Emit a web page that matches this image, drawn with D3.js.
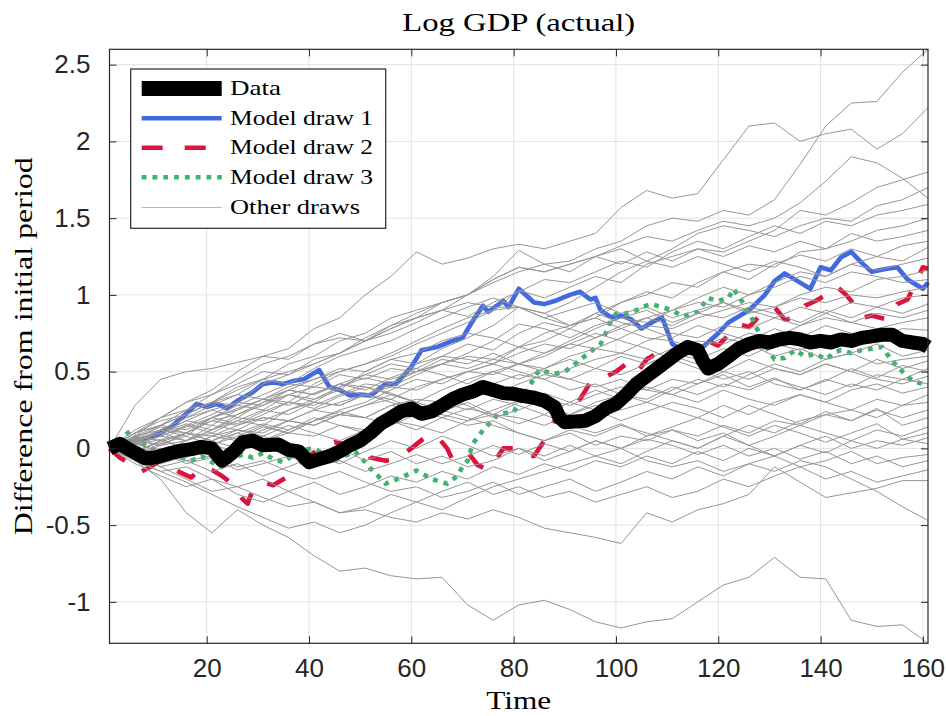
<!DOCTYPE html>
<html>
<head>
<meta charset="utf-8">
<script src="https://cdn.jsdelivr.net/npm/d3@7/dist/d3.min.js"></script>
<style>
  body { margin: 0; background: #ffffff; }
  svg { display: block; }
</style>
</head>
<body>
<svg id="chart" width="946" height="716"></svg>
<script>
// ---- values -------------------------------------------------------------
const xTicks = [20, 40, 60, 80, 100, 120, 140, 160];
const yTicks = [-1, -0.5, 0, 0.5, 1, 1.5, 2, 2.5];
const yTickLabels = ["-1", "-0.5", "0", "0.5", "1", "1.5", "2", "2.5"];
const legendLabels = ["Data", "Model draw 1", "Model draw 2", "Model draw 3", "Other draws"];

// observed log GDP, relative to the first period
const dataTimes = [1, 3, 5, 8, 10, 13, 15, 17, 19, 21, 23, 25, 27, 29, 31, 34, 36, 38, 40, 42, 44, 46, 48, 50,
  52, 54, 56, 58, 60, 62, 64, 66, 68, 70, 72, 74, 76, 78, 80, 82, 84, 86, 88, 89, 90, 92, 94, 96, 98, 100,
  102, 104, 106, 108, 110, 112, 114, 116, 117, 118, 120, 122, 124, 126, 128, 130, 132, 134, 136, 138, 140,
  142, 144, 146, 148, 150, 152, 154, 156, 158, 160, 161];
const dataValues = [0, 0.03, -0.01, -0.065, -0.06, -0.03, -0.015, -0.005, 0.01, 0.0, -0.08, -0.03, 0.04, 0.05,
  0.02, 0.025, -0.01, -0.02, -0.09, -0.07, -0.05, -0.02, 0.02, 0.05, 0.1, 0.16, 0.2, 0.24, 0.26, 0.225, 0.24,
  0.28, 0.32, 0.35, 0.37, 0.4, 0.38, 0.36, 0.355, 0.34, 0.33, 0.31, 0.27, 0.2, 0.17, 0.175, 0.18, 0.21, 0.26,
  0.29, 0.35, 0.42, 0.47, 0.52, 0.57, 0.62, 0.66, 0.64, 0.57, 0.52, 0.55, 0.6, 0.65, 0.68, 0.7, 0.69, 0.71,
  0.72, 0.71, 0.69, 0.7, 0.69, 0.71, 0.7, 0.72, 0.73, 0.74, 0.74, 0.7, 0.69, 0.68, 0.66];

// model draw 1
const draw1Times = [1, 3, 6, 9, 11, 13, 16, 18, 20, 22, 24, 26, 29, 31, 33, 35, 37, 39, 42, 44, 46, 48, 50, 52,
  55, 57, 60, 62, 65, 68, 70, 72, 74, 75, 78, 79, 81, 84, 86, 88, 91, 93, 95, 96, 97, 99, 101, 103, 105, 107,
  109, 111, 113, 115, 117, 120, 122, 126, 129, 131, 133, 136, 138, 140, 142, 144, 146, 148, 150, 153, 155,
  157, 160, 161];
const draw1Values = [0, 0.02, 0.05, 0.07, 0.1, 0.14, 0.225, 0.29, 0.27, 0.29, 0.26, 0.31, 0.366, 0.42, 0.43, 0.42,
  0.44, 0.45, 0.51, 0.4, 0.38, 0.344, 0.35, 0.344, 0.42, 0.42, 0.53, 0.64, 0.66, 0.7, 0.72, 0.83, 0.93, 0.89,
  0.96, 0.92, 1.04, 0.95, 0.94, 0.96, 1.0, 1.02, 0.97, 0.98, 0.9, 0.855, 0.865, 0.84, 0.78, 0.82, 0.854, 0.68,
  0.64, 0.65, 0.66, 0.75, 0.82, 0.9, 0.995, 1.09, 1.14, 1.08, 1.04, 1.18, 1.16, 1.245, 1.28, 1.21, 1.15, 1.17,
  1.18, 1.1, 1.04, 1.08];

// model draw 2
const draw2Times = [1, 3, 5, 7, 9, 11, 13, 15, 17, 19, 21, 23, 25, 27, 28, 29, 31, 33, 36, 38, 40, 42, 45, 48,
  51, 52, 55, 57, 60, 63, 65, 67, 68, 71, 73, 75, 77, 78, 81, 83, 84, 86, 88, 89, 90, 92, 93, 95, 97, 100,
  102, 104, 106, 108, 110, 113, 116, 118, 120, 122, 124, 126, 128, 130, 131, 133, 135, 137, 139, 141, 143,
  145, 146, 148, 150, 153, 155, 157, 159, 160, 161];
const draw2Values = [0, -0.06, -0.1, -0.155, -0.12, -0.08, -0.12, -0.16, -0.19, -0.12, -0.14, -0.18, -0.23,
  -0.33, -0.36, -0.27, -0.22, -0.24, -0.18, -0.1, -0.05, 0.0, 0.04, 0.02, 0.0, -0.06, -0.08, -0.07, 0.0, 0.08,
  0.08, 0.0, -0.07, -0.025, -0.11, -0.14, -0.05, 0.0, 0.0, -0.05, -0.05, 0.05, 0.18, 0.27, 0.3, 0.28, 0.32,
  0.43, 0.45, 0.5, 0.55, 0.49, 0.58, 0.62, 0.6, 0.66, 0.7, 0.7, 0.67, 0.74, 0.81, 0.79, 0.86, 0.9, 0.92, 0.84,
  0.85, 0.93, 0.96, 1.0, 1.06, 1.0, 0.96, 0.85, 0.865, 0.84, 0.94, 0.97, 1.11, 1.18, 1.17];

// model draw 3
const draw3Times = [1, 3, 5, 7, 9, 11, 13, 15, 17, 19, 21, 23, 25, 27, 29, 31, 33, 35, 37, 39, 41, 43, 45, 47,
  49, 51, 52, 55, 58, 61, 64, 67, 69, 70, 71, 72, 74, 77, 80, 83, 85, 88, 90, 92, 95, 97, 98, 99, 100, 102,
  104, 105, 107, 109, 111, 113, 116, 118, 120, 122, 123, 125, 127, 129, 131, 133, 135, 137, 139, 141, 143,
  144, 146, 148, 150, 152, 154, 156, 158, 160, 161];
const draw3Values = [0, 0.06, 0.11, 0.04, 0.0, -0.03, -0.02, -0.06, -0.08, -0.05, -0.09, -0.12, -0.07, -0.04,
  -0.06, -0.03, -0.07, -0.09, -0.04, -0.01, 0.0, -0.04, -0.08, -0.05, -0.02, -0.09, -0.13, -0.23, -0.19,
  -0.144, -0.2, -0.23, -0.18, -0.12, -0.08, 0.03, 0.117, 0.225, 0.236, 0.4, 0.51, 0.486, 0.5, 0.55, 0.63, 0.68,
  0.75, 0.83, 0.876, 0.88, 0.9, 0.92, 0.94, 0.92, 0.9, 0.86, 0.89, 0.98, 0.96, 0.98, 1.04, 0.94, 0.82, 0.68,
  0.58, 0.59, 0.64, 0.6, 0.616, 0.58, 0.63, 0.64, 0.62, 0.64, 0.65, 0.66, 0.57, 0.5, 0.44, 0.42, 0.41];

// remaining model draws, sampled every fifth period
const otherTimes = [1, 6, 11, 16, 21, 26, 31, 36, 41, 46, 51, 56, 61, 66, 71, 76, 81, 86, 91, 96, 101, 106,
  111, 116, 121, 126, 131, 136, 141, 146, 151, 156, 161];
const otherDraws = [
  [0,0.1,0.15,0.22,0.3,0.35,0.45,0.5,0.55,0.62,0.7,0.78,0.85,0.95,1.0,1.08,1.15,1.2,1.22,1.3,1.35,1.45,1.5,1.48,1.55,1.52,1.62,1.85,2.1,2.25,2.26,2.45,2.6],
  [0,0.08,0.2,0.3,0.38,0.5,0.6,0.65,0.78,0.85,1.0,1.12,1.28,1.2,1.24,1.3,1.33,1.3,1.35,1.4,1.57,1.68,1.63,1.66,1.88,2.1,2.12,2.0,2.05,2.08,1.95,2.05,2.22],
  [0,0.05,0.12,0.2,0.25,0.3,0.42,0.48,0.55,0.62,0.7,0.75,0.82,0.9,1.0,1.1,1.18,1.15,1.2,1.25,1.32,1.38,1.35,1.42,1.48,1.45,1.5,1.6,1.74,1.9,1.86,1.76,1.63],
  [0,0.06,0.1,0.18,0.15,0.25,0.32,0.3,0.42,0.5,0.55,0.62,0.7,0.78,0.85,0.9,1.03,0.98,1.05,1.12,1.08,1.2,1.25,1.3,1.28,1.35,1.42,1.55,1.52,1.6,1.7,1.75,1.8],
  [0,0.04,0.12,0.08,0.2,0.28,0.25,0.35,0.4,0.38,0.5,0.58,0.55,0.65,0.72,0.8,0.92,0.88,0.95,1.05,1.15,1.22,1.3,1.4,1.45,1.42,1.38,1.45,1.5,1.48,1.58,1.62,1.7],
  [0,0.28,0.45,0.5,0.52,0.56,0.6,0.58,0.68,0.72,0.7,0.78,0.85,0.9,0.86,0.95,1.02,1.1,1.08,1.15,1.22,1.18,1.28,1.35,1.3,1.38,1.45,1.4,1.48,1.45,1.52,1.55,1.59],
  [0,-0.02,0.05,0.1,0.18,0.15,0.22,0.3,0.28,0.35,0.42,0.4,0.48,0.55,0.6,0.58,0.66,0.75,0.8,0.85,0.95,1.0,1.08,1.05,1.15,1.2,1.18,1.28,1.3,1.35,1.42,1.45,1.5],
  [0,0.1,0.2,0.25,0.35,0.42,0.5,0.48,0.58,0.62,0.72,0.8,0.88,0.95,1.0,1.1,1.18,1.15,1.2,1.25,1.2,1.28,1.22,1.3,1.25,1.32,1.28,1.35,1.3,1.4,1.35,1.38,1.42],
  [0,0.05,0.02,0.1,0.08,0.15,0.2,0.18,0.25,0.3,0.35,0.32,0.4,0.45,0.5,0.55,0.66,0.62,0.7,0.78,0.85,0.82,0.9,0.98,1.05,1.0,1.08,1.15,1.12,1.2,1.25,1.22,1.31],
  [0,0.08,0.15,0.25,0.3,0.4,0.45,0.55,0.6,0.7,0.75,0.85,0.9,0.95,1.0,1.12,1.29,1.2,1.15,1.25,1.3,1.22,1.18,1.25,1.2,1.15,1.22,1.18,1.12,1.2,1.16,1.2,1.24],
  [0,0.02,-0.05,0.0,0.08,0.05,0.12,0.18,0.15,0.22,0.28,0.35,0.3,0.38,0.45,0.5,0.55,0.6,0.68,0.65,0.72,0.8,0.78,0.85,0.9,0.95,0.92,1.0,1.05,1.02,1.1,1.12,1.16],
  [0,0.1,0.18,0.22,0.3,0.38,0.45,0.42,0.52,0.6,0.65,0.7,0.78,0.85,0.92,0.98,0.92,0.85,0.9,0.95,0.88,0.92,0.85,0.9,0.95,0.88,0.92,0.98,0.95,1.0,0.98,1.02,1.05],
  [0,-0.05,0.02,0.05,0.12,0.2,0.18,0.25,0.32,0.38,0.35,0.42,0.5,0.55,0.62,0.7,0.81,0.78,0.72,0.8,0.85,0.9,0.82,0.88,0.95,0.9,0.85,0.92,0.88,0.95,0.92,0.98,1.0],
  [0,0.05,0.12,0.2,0.28,0.35,0.32,0.4,0.45,0.52,0.5,0.58,0.62,0.7,0.75,0.72,0.66,0.7,0.78,0.72,0.8,0.85,0.8,0.88,0.85,0.92,0.88,0.82,0.9,0.85,0.92,0.88,0.94],
  [0,0.03,0.08,0.05,0.12,0.18,0.15,0.25,0.3,0.28,0.35,0.4,0.38,0.45,0.5,0.48,0.55,0.52,0.6,0.65,0.62,0.7,0.75,0.72,0.8,0.78,0.85,0.8,0.88,0.82,0.78,0.82,0.85],
  [0,0.12,0.2,0.3,0.35,0.45,0.55,0.6,0.68,0.75,0.7,0.8,0.85,0.9,0.95,0.92,0.92,0.85,0.8,0.88,0.82,0.78,0.72,0.8,0.75,0.7,0.78,0.72,0.8,0.75,0.72,0.78,0.77],
  [0,0.08,0.05,0.15,0.22,0.3,0.28,0.38,0.45,0.5,0.55,0.6,0.68,0.75,0.82,0.9,0.92,0.88,0.8,0.85,0.78,0.72,0.7,0.65,0.72,0.68,0.6,0.65,0.58,0.62,0.68,0.6,0.64],
  [0,-0.03,0.05,0.0,0.08,0.12,0.1,0.18,0.15,0.22,0.2,0.28,0.25,0.32,0.38,0.35,0.42,0.48,0.45,0.52,0.48,0.55,0.6,0.55,0.5,0.58,0.52,0.48,0.55,0.5,0.58,0.52,0.57],
  [0,0.05,0.15,0.12,0.2,0.25,0.32,0.38,0.35,0.42,0.48,0.45,0.5,0.55,0.52,0.58,0.55,0.62,0.68,0.75,0.7,0.65,0.58,0.52,0.45,0.5,0.42,0.38,0.45,0.4,0.48,0.45,0.52],
  [0,0.02,0.08,0.15,0.1,0.18,0.25,0.22,0.3,0.28,0.35,0.3,0.25,0.32,0.28,0.2,0.25,0.32,0.28,0.35,0.4,0.38,0.45,0.42,0.5,0.45,0.52,0.48,0.55,0.5,0.45,0.42,0.47],
  [0,-0.06,-0.1,-0.05,0.02,-0.02,0.05,0.1,0.08,0.15,0.12,0.2,0.25,0.22,0.18,0.25,0.31,0.28,0.22,0.3,0.35,0.32,0.4,0.35,0.42,0.38,0.45,0.4,0.35,0.42,0.38,0.45,0.42],
  [0,0.1,0.15,0.22,0.3,0.28,0.35,0.42,0.4,0.48,0.45,0.52,0.5,0.58,0.55,0.62,0.55,0.5,0.45,0.4,0.45,0.38,0.35,0.3,0.38,0.32,0.28,0.35,0.3,0.38,0.42,0.36,0.4],
  [0,-0.02,0.04,0.1,0.05,0.12,0.08,0.15,0.1,0.05,0.12,0.18,0.15,0.1,0.18,0.22,0.2,0.15,0.22,0.28,0.25,0.3,0.25,0.2,0.28,0.22,0.3,0.35,0.3,0.25,0.32,0.28,0.35],
  [0,0.05,0.1,0.18,0.25,0.2,0.3,0.38,0.35,0.42,0.4,0.35,0.3,0.25,0.2,0.15,0.1,0.05,0.1,0.02,0.08,0.05,0.12,0.08,0.15,0.1,0.18,0.15,0.22,0.18,0.25,0.2,0.25],
  [0,-0.05,-0.12,-0.08,-0.15,-0.1,-0.18,-0.12,-0.05,-0.1,-0.02,0.05,0.0,0.08,0.02,-0.05,0.0,-0.08,-0.02,0.05,0.0,0.08,0.12,0.05,0.1,0.02,0.08,0.15,0.1,0.05,0.12,0.08,0.14],
  [0,0.04,0.1,0.05,0.15,0.12,0.2,0.18,0.25,0.22,0.28,0.32,0.25,0.2,0.15,0.18,0.1,0.05,0.12,0.08,0.15,0.1,0.05,0.0,0.08,0.02,-0.05,0.02,0.08,0.0,0.05,0.02,0.07],
  [0,-0.08,-0.15,-0.12,-0.2,-0.25,-0.2,-0.28,-0.22,-0.3,-0.25,-0.18,-0.22,-0.15,-0.2,-0.12,-0.17,-0.1,-0.15,-0.08,-0.12,-0.05,-0.1,-0.02,-0.08,0.0,-0.05,0.02,-0.03,0.05,0.0,0.06,0.03],
  [0,0.06,0.02,0.1,0.05,0.0,0.08,0.02,-0.05,0.0,-0.08,-0.02,-0.1,-0.05,-0.12,-0.08,0.0,-0.05,0.02,-0.05,0.0,-0.08,-0.12,-0.08,-0.15,-0.1,-0.05,-0.12,-0.08,-0.02,-0.1,-0.06,-0.04],
  [0,-0.1,-0.18,-0.25,-0.2,-0.3,-0.35,-0.28,-0.35,-0.42,-0.38,-0.3,-0.35,-0.28,-0.22,-0.3,-0.25,-0.32,-0.28,-0.35,-0.3,-0.25,-0.32,-0.28,-0.2,-0.25,-0.18,-0.12,-0.2,-0.15,-0.22,-0.18,-0.14],
  [0,-0.05,-0.12,-0.2,-0.28,-0.25,-0.32,-0.38,-0.35,-0.42,-0.4,-0.45,-0.48,-0.42,-0.46,-0.4,-0.45,-0.52,-0.55,-0.58,-0.62,-0.42,-0.48,-0.4,-0.36,-0.3,-0.12,-0.22,-0.32,-0.29,-0.26,-0.21,-0.21],
  [0,0.03,-0.02,-0.08,-0.05,-0.12,-0.08,-0.15,-0.2,-0.15,-0.22,-0.28,-0.25,-0.32,-0.28,-0.22,-0.3,-0.25,-0.2,-0.28,-0.22,-0.15,-0.2,-0.12,-0.18,-0.1,-0.15,-0.08,-0.12,-0.2,-0.28,-0.38,-0.47],
  [0,-0.08,-0.2,-0.42,-0.55,-0.4,-0.5,-0.58,-0.7,-0.8,-0.78,-0.83,-0.85,-0.84,-1.02,-1.12,-1.02,-0.99,-1.05,-1.13,-1.17,-1.13,-1.11,-1.0,-0.89,-0.84,-0.71,-0.84,-0.85,-1.12,-1.16,-1.15,-1.27],
  [0,-0.08,-0.15,-0.22,-0.3,-0.38,-0.45,-0.52,-0.48,-0.55,-0.5,-0.42,-0.35,-0.4,-0.32,-0.25,-0.2,-0.15,-0.1,-0.05,-0.1,-0.02,0.05,0.0,0.08,0.15,0.1,0.18,0.22,0.25,0.2,0.28,0.3],
  [0,0.02,0.06,0.0,0.05,0.1,0.05,0.12,0.18,0.22,0.2,0.28,0.32,0.3,0.38,0.42,0.48,0.45,0.52,0.58,0.62,0.58,0.65,0.7,0.68,0.75,0.72,0.8,0.85,0.82,0.88,0.85,0.9],
  [0,-0.04,0.0,-0.06,0.02,0.08,0.15,0.1,0.18,0.25,0.3,0.38,0.45,0.42,0.5,0.55,0.5,0.45,0.38,0.42,0.35,0.3,0.38,0.45,0.4,0.48,0.55,0.5,0.58,0.62,0.55,0.58,0.6],
  [0,0.08,0.12,0.1,0.18,0.22,0.3,0.35,0.32,0.4,0.48,0.55,0.52,0.6,0.58,0.55,0.62,0.68,0.65,0.72,0.78,0.85,0.9,0.95,0.92,1.0,1.05,1.12,1.08,1.15,1.12,1.08,1.1],
  [0,0.04,-0.03,0.05,0.1,0.06,0.14,0.1,0.18,0.24,0.2,0.15,0.22,0.3,0.25,0.32,0.28,0.22,0.3,0.25,0.18,0.24,0.3,0.26,0.2,0.28,0.22,0.16,0.24,0.18,0.26,0.15,0.2],
  [0,-0.04,0.03,0.08,0.02,0.1,0.16,0.12,0.2,0.15,0.1,0.18,0.12,0.2,0.26,0.22,0.3,0.36,0.3,0.38,0.32,0.4,0.35,0.42,0.48,0.4,0.46,0.38,0.44,0.52,0.46,0.54,0.5],
  [0,0.07,0.14,0.1,0.2,0.26,0.32,0.28,0.36,0.42,0.38,0.46,0.52,0.48,0.42,0.5,0.45,0.52,0.58,0.52,0.6,0.55,0.62,0.58,0.65,0.6,0.68,0.64,0.7,0.66,0.74,0.68,0.72],
  [0,-0.06,-0.02,-0.1,-0.06,-0.14,-0.1,-0.05,-0.12,-0.08,-0.15,-0.1,-0.04,-0.1,-0.05,0.02,-0.04,0.03,-0.02,0.05,0.0,0.06,0.02,-0.04,0.02,-0.05,0.0,-0.07,-0.02,-0.1,-0.05,-0.12,-0.08],
  [0,0.05,0.1,0.16,0.12,0.22,0.28,0.35,0.3,0.4,0.46,0.42,0.55,0.6,0.68,0.64,0.75,0.82,0.78,0.88,0.95,1.02,0.98,1.08,1.15,1.1,1.2,1.26,1.22,1.3,1.25,1.32,1.35],
  [0,0.03,0.08,0.14,0.2,0.16,0.24,0.3,0.26,0.34,0.4,0.36,0.3,0.24,0.3,0.22,0.16,0.22,0.15,0.1,0.16,0.08,0.14,0.2,0.14,0.08,0.15,0.1,0.04,0.1,0.16,0.06,0.1]
];

// ---- layout -------------------------------------------------------------
const plot = { left: 109.5, right: 928, top: 49.3, bottom: 643.3 };
const colors = { data: "#000000", draw1: "#4169e1", draw2: "#dc143c", draw3: "#3cb371", other: "#969696" };
const axisColor = "#262626";
const serif = "'Liberation Serif', 'Times New Roman', serif";
const sans = "'Liberation Sans', Arial, Helvetica, sans-serif";

const svg = d3.select("#chart");
svg.append("rect").attr("width", 946).attr("height", 716).attr("fill", "#ffffff");

const x = d3.scaleLinear().domain([1, 161]).range([plot.left, plot.right]);
const y = d3.scaleLinear().domain([-1.27, 2.6]).range([plot.bottom, plot.top]);

// grid
const grid = svg.append("g").attr("stroke", "#e2e2e2").attr("stroke-width", 1);
grid.selectAll("line.gx").data(xTicks).join("line")
  .attr("x1", d => x(d)).attr("x2", d => x(d))
  .attr("y1", plot.top).attr("y2", plot.bottom);
grid.selectAll("line.gy").data(yTicks).join("line")
  .attr("x1", plot.left).attr("x2", plot.right)
  .attr("y1", d => y(d)).attr("y2", d => y(d));

// series
const line = d3.line().x(d => x(d[0])).y(d => y(d[1]));
const zip = (ts, vs) => ts.map((t, i) => [t, vs[i]]);

const plotArea = svg.append("g");

plotArea.append("path").datum(zip(draw1Times, draw1Values))
  .attr("d", line).attr("fill", "none").attr("stroke", colors.draw1)
  .attr("stroke-width", 4.6).attr("stroke-linejoin", "round");

plotArea.append("path").datum(zip(draw2Times, draw2Values))
  .attr("d", line).attr("fill", "none").attr("stroke", colors.draw2)
  .attr("stroke-width", 4.6).attr("stroke-linejoin", "round")
  .attr("stroke-dasharray", "20,21");

plotArea.append("path").datum(zip(draw3Times, draw3Values))
  .attr("d", line).attr("fill", "none").attr("stroke", colors.draw3)
  .attr("stroke-width", 4.6).attr("stroke-linejoin", "miter")
  .attr("stroke-dasharray", "4.8,6");

plotArea.append("g").selectAll("path").data(otherDraws).join("path")
  .attr("d", vs => line(zip(otherTimes, vs)))
  .attr("fill", "none").attr("stroke", colors.other).attr("stroke-width", 1)
  .attr("stroke-linejoin", "round");

plotArea.append("path").datum(zip(dataTimes, dataValues))
  .attr("d", line).attr("fill", "none").attr("stroke", colors.data)
  .attr("stroke-width", 14).attr("stroke-linejoin", "round");

// axes (ticks point inward on all four sides)
const styleAxis = g => {
  g.select(".domain").remove();
  g.selectAll(".tick line").attr("stroke", axisColor);
  g.selectAll(".tick text").attr("fill", axisColor)
    .style("font-family", sans).style("font-size", "26px");
};
svg.append("g").attr("transform", `translate(0,${plot.bottom})`)
  .call(d3.axisBottom(x).tickValues(xTicks).tickSize(-7).tickPadding(15).tickFormat(d3.format("d")))
  .call(styleAxis);
svg.append("g").attr("transform", `translate(0,${plot.top})`)
  .call(d3.axisTop(x).tickValues(xTicks).tickSize(-7).tickFormat(""))
  .call(styleAxis);
svg.append("g").attr("transform", `translate(${plot.left},0)`)
  .call(d3.axisLeft(y).tickValues(yTicks).tickSize(-7).tickPadding(19)
    .tickFormat((d, i) => yTickLabels[i]))
  .call(styleAxis);
svg.append("g").attr("transform", `translate(${plot.right},0)`)
  .call(d3.axisRight(y).tickValues(yTicks).tickSize(-7).tickFormat(""))
  .call(styleAxis);

svg.append("rect")
  .attr("x", plot.left).attr("y", plot.top)
  .attr("width", plot.right - plot.left).attr("height", plot.bottom - plot.top)
  .attr("fill", "none").attr("stroke", axisColor).attr("stroke-width", 1.2);

// titles
const serifText = (sel, size, len) => sel
  .style("font-family", serif).style("font-size", size + "px").attr("fill", "#000")
  .attr("textLength", len).attr("lengthAdjust", "spacingAndGlyphs");

svg.append("text").attr("x", (plot.left + plot.right) / 2).attr("y", 31)
  .attr("text-anchor", "middle").text("Log GDP (actual)")
  .call(serifText, 26, 233);

svg.append("text").attr("x", (plot.left + plot.right) / 2).attr("y", 709)
  .attr("text-anchor", "middle").text("Time")
  .call(serifText, 26, 65);

svg.append("text")
  .attr("transform", `translate(32,${(plot.top + plot.bottom) / 2}) rotate(-90)`)
  .attr("text-anchor", "middle").text("Difference from initial period")
  .call(serifText, 26, 378);

// legend
const legend = svg.append("g");
legend.append("rect").attr("x", 130.7).attr("y", 69).attr("width", 255).attr("height", 159.3)
  .attr("fill", "#ffffff").attr("stroke", axisColor).attr("stroke-width", 1.2);

const legendRows = [88.5, 118.3, 147.8, 177.2, 207.5];
const legendStyles = [
  { stroke: colors.data, width: 15, dash: null },
  { stroke: colors.draw1, width: 4.6, dash: null },
  { stroke: colors.draw2, width: 4.6, dash: "21,22" },
  { stroke: colors.draw3, width: 4.6, dash: "4.8,6" },
  { stroke: "#b4b4b4", width: 1.2, dash: null }
];
const legendTextLen = [51, 143, 143, 143, 130];

legendLabels.forEach((label, i) => {
  const st = legendStyles[i];
  legend.append("line")
    .attr("x1", 141.7).attr("x2", 221.7)
    .attr("y1", legendRows[i]).attr("y2", legendRows[i])
    .attr("stroke", st.stroke).attr("stroke-width", st.width)
    .attr("stroke-dasharray", st.dash);
  legend.append("text").attr("x", 230).attr("y", legendRows[i] + 6.5)
    .text(label).call(serifText, 22, legendTextLen[i]);
});
</script>
</body>
</html>
